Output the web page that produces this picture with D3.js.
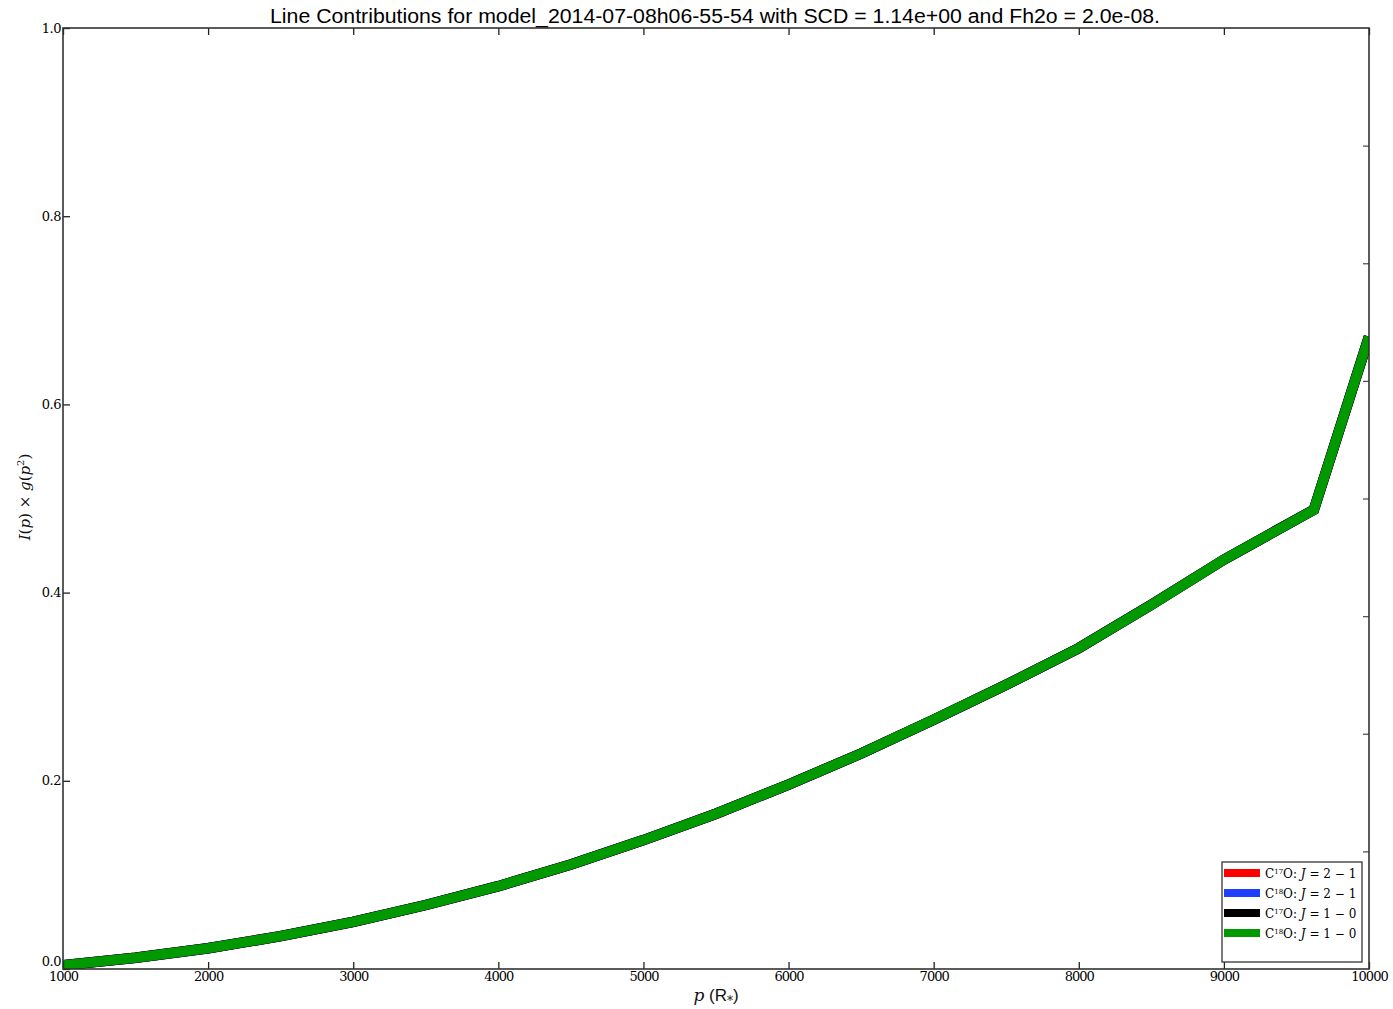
<!DOCTYPE html>
<html>
<head>
<meta charset="utf-8">
<script src="https://cdn.jsdelivr.net/npm/d3@7"></script>
<style>
  body { margin: 0; background: #fff; }
  svg { display: block; }
  .tick text { font-family: "DejaVu Serif", "Liberation Serif", serif; }
</style>
</head>
<body>
<svg id="chart" width="1393" height="1009"></svg>
<script>
// impact parameter p (R*)
const pValues = [1000, 1500, 2000, 2500, 3000, 3500, 4000, 4500, 5000, 5500, 6000, 6500, 7000, 7500, 8000, 8500, 9000, 9620, 10000];
// I(p) x g(p^2) -- all four transitions overlap in the plot
const c17o21 = [0.004, 0.012, 0.022, 0.035, 0.050, 0.068, 0.088, 0.111, 0.137, 0.165, 0.196, 0.229, 0.265, 0.302, 0.341, 0.387, 0.435, 0.488, 0.672];
const c18o21 = [0.004, 0.012, 0.022, 0.035, 0.050, 0.068, 0.088, 0.111, 0.137, 0.165, 0.196, 0.229, 0.265, 0.302, 0.341, 0.387, 0.435, 0.488, 0.672];
const c17o10 = [0.004, 0.012, 0.022, 0.035, 0.050, 0.068, 0.088, 0.111, 0.137, 0.165, 0.196, 0.229, 0.265, 0.302, 0.341, 0.387, 0.435, 0.488, 0.672];
const c18o10 = [0.004, 0.012, 0.022, 0.035, 0.050, 0.068, 0.088, 0.111, 0.137, 0.165, 0.196, 0.229, 0.265, 0.302, 0.341, 0.387, 0.435, 0.488, 0.672];
const seriesNames = [["17", "2 \u2212 1"], ["18", "2 \u2212 1"], ["17", "1 \u2212 0"], ["18", "1 \u2212 0"]];
const seriesColors = ["#ff0000", "#1f3fff", "#000000", "#009900"];
const xTicks = [1000, 2000, 3000, 4000, 5000, 6000, 7000, 8000, 9000, 10000];
const yTicks = [0.0, 0.2, 0.4, 0.6, 0.8, 1.0];
const rightTicks = [0.125, 0.25, 0.375, 0.5, 0.625, 0.75, 0.875];

const margin = { left: 63, right: 24, top: 28, bottom: 40 };
const svg = d3.select("#chart");
const width = 1393 - margin.left - margin.right;
const height = 1009 - margin.top - margin.bottom;

const chart = svg.append("g")
    .attr("transform", "translate(" + margin.left + "," + margin.top + ")");

const xScale = d3.scaleLinear().domain([1000, 10000]).range([0, width]);
const yScale = d3.scaleLinear().domain([0, 1]).range([height, 0]);

const seriesData = [c17o21, c18o21, c17o10, c18o10];

const line = d3.line()
    .x((d, i) => xScale(pValues[i]))
    .y(d => yScale(d));

// clip lines to axes
svg.append("defs").append("clipPath").attr("id", "clip")
    .append("rect").attr("width", width).attr("height", height);

seriesData.forEach(function (vals, k) {
    chart.append("path")
        .datum(vals)
        .attr("clip-path", "url(#clip)")
        .attr("fill", "none")
        .attr("stroke", seriesColors[k])
        .attr("stroke-width", k === 3 ? 10 : 10.5)
        .attr("stroke-linejoin", "miter")
        .attr("d", line);
});

// axes, ticks pointing inward
const xAxis = chart.append("g")
    .attr("transform", "translate(0," + height + ")")
    .call(d3.axisBottom(xScale).tickValues(xTicks).tickSizeInner(-7).tickSizeOuter(0)
        .tickPadding(3).tickFormat(d3.format("d")));

const xTop = chart.append("g")
    .call(d3.axisTop(xScale).tickValues(xTicks).tickSizeInner(-7).tickSizeOuter(0).tickFormat(""));

const yAxis = chart.append("g")
    .call(d3.axisLeft(yScale).tickValues(yTicks).tickSizeInner(-7).tickSizeOuter(0)
        .tickPadding(2).tickFormat(d3.format(".1f")));

const yRight = chart.append("g")
    .attr("transform", "translate(" + width + ",0)")
    .call(d3.axisRight(yScale).tickValues(rightTicks).tickSizeInner(-6).tickSizeOuter(0).tickFormat(""));

[xAxis, xTop, yAxis, yRight].forEach(function (a) {
    a.select(".domain").remove();
    a.selectAll(".tick line").attr("stroke", "#222").attr("stroke-width", 1.3);
    a.selectAll(".tick text").attr("font-size", 13).attr("fill", "#000");
});
xAxis.selectAll(".tick text").attr("letter-spacing", "-1px");
yAxis.selectAll(".tick text").attr("letter-spacing", "-0.5px");
// keep the 0.0 label just clear of the 1000 label
yAxis.selectAll(".tick text").filter(d => d === 0).attr("dy", "-0.3em");
yRight.selectAll(".tick line").attr("stroke", "#555");

// frame
chart.append("rect")
    .attr("width", width).attr("height", height)
    .attr("fill", "none").attr("stroke", "#333").attr("stroke-width", 1.6);

// title
svg.append("text")
    .attr("x", 715).attr("y", 23)
    .attr("text-anchor", "middle")
    .attr("font-family", "Liberation Sans, Arial, sans-serif")
    .attr("font-size", 20)
    .attr("textLength", 890)
    .attr("lengthAdjust", "spacingAndGlyphs")
    .attr("fill", "#000")
    .text("Line Contributions for model_2014-07-08h06-55-54 with SCD = 1.14e+00 and Fh2o = 2.0e-08.");

// axis labels
const xLabel = svg.append("text")
    .attr("x", 716).attr("y", 1001)
    .attr("text-anchor", "middle")
    .attr("font-family", "DejaVu Serif, serif")
    .attr("font-size", 17)
    .attr("fill", "#111");
xLabel.append("tspan").attr("font-style", "italic").text("p");
xLabel.append("tspan").attr("font-family", "Liberation Sans, sans-serif").text(" (R");
xLabel.append("tspan").attr("font-size", 12).attr("dy", 4).text("*");
xLabel.append("tspan").attr("font-family", "Liberation Sans, sans-serif").attr("dy", -4).text(")");

const yLabel = svg.append("text")
    .attr("transform", "translate(30,497) rotate(-90)")
    .attr("text-anchor", "middle")
    .attr("font-family", "DejaVu Serif, serif")
    .attr("font-size", 15)
    .attr("fill", "#111");
yLabel.append("tspan").attr("font-style", "italic").text("I");
yLabel.append("tspan").text("(");
yLabel.append("tspan").attr("font-style", "italic").text("p");
yLabel.append("tspan").text(") \u00d7 ");
yLabel.append("tspan").attr("font-style", "italic").text("g");
yLabel.append("tspan").text("(");
yLabel.append("tspan").attr("font-style", "italic").text("p");
yLabel.append("tspan").attr("font-size", 10).attr("dy", -6).text("2");
yLabel.append("tspan").attr("dy", 6).text(")");

// legend
const legend = svg.append("g").attr("transform", "translate(1222,862)");
legend.append("rect")
    .attr("width", 140).attr("height", 100)
    .attr("fill", "#fff").attr("stroke", "#333").attr("stroke-width", 1.3);

seriesNames.forEach(function (n, k) {
    const row = legend.append("g").attr("transform", "translate(0," + (11 + k * 20) + ")");
    row.append("line")
        .attr("x1", 2).attr("x2", 38)
        .attr("stroke", seriesColors[k]).attr("stroke-width", 8);
    const t = row.append("text")
        .attr("x", 43).attr("y", 4.5)
        .attr("font-family", "DejaVu Serif, serif")
        .attr("font-size", 12)
        .attr("fill", "#000");
    t.append("tspan").text("C");
    t.append("tspan").attr("font-size", 7).attr("dy", -4).text(n[0]);
    t.append("tspan").attr("dy", 4).text("O: ");
    t.append("tspan").attr("font-style", "italic").text("J");
    t.append("tspan").text(" = " + n[1]);
});
</script>
</body>
</html>
